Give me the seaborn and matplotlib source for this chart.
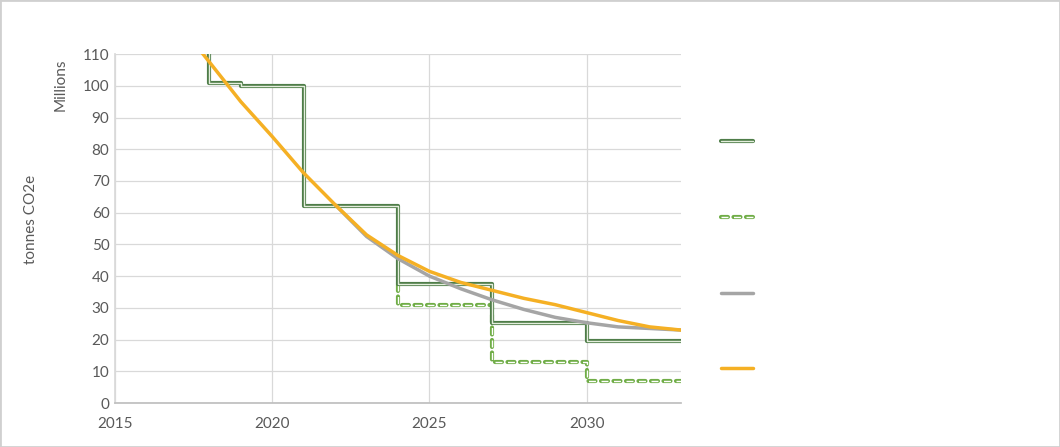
import matplotlib
matplotlib.use('Agg')
import matplotlib.pyplot as plt
import seaborn as sns
import pandas as pd
from matplotlib.patches import Rectangle

# step series (cap) and its dashed variant
cap_years = [2018, 2018, 2019, 2021, 2024, 2027, 2030, 2033]
cap_values = [120, 101, 100, 62, 37.5, 25.3, 19.7, 19.7]
alt_years = [2024, 2024, 2027, 2030, 2033]
alt_values = [37.5, 31, 13, 7, 7]

# smooth series
gray_years = [2022, 2023, 2024, 2025, 2026, 2027, 2028, 2029, 2030, 2031, 2032, 2033]
gray_values = [62.5, 52.5, 45.5, 40, 36, 32.5, 29.5, 27, 25.3, 24, 23.5, 23]
orange_years = [2017, 2018, 2019, 2020, 2021, 2022, 2023, 2024, 2025, 2026, 2027, 2028,
                2029, 2030, 2031, 2032, 2033]
orange_values = [120, 107.5, 95, 84, 72.5, 62.5, 53, 46.5, 41.5, 38, 35.5, 33,
                 31, 28.5, 26, 24, 23]

x_ticks = [2015, 2020, 2025, 2030]
y_ticks = list(range(0, 111, 10))

sns.set_theme(style='white')
plt.rcParams['font.family'] = ['Lato', 'DejaVu Sans']
plt.rcParams['lines.scale_dashes'] = False

fig = plt.figure(figsize=(10.6, 4.47), dpi=100)
ax = fig.add_axes([0.1085, 0.0984, 0.534, 0.7806])

dark_green = '#4f7d49'
light_green = '#70ad47'
gray = '#a5a5a5'
orange = '#f5b024'

cap_df = pd.DataFrame({'year': cap_years, 'value': cap_values})
alt_df = pd.DataFrame({'year': alt_years, 'value': alt_values})

# double line for the cap step
sns.lineplot(data=cap_df, x='year', y='value', ax=ax, estimator=None, sort=False,
             drawstyle='steps-post', color=dark_green, lw=3.0, zorder=3)
sns.lineplot(data=cap_df, x='year', y='value', ax=ax, estimator=None, sort=False,
             drawstyle='steps-post', color='#e4eedd', lw=1.0, zorder=3.1)

# hollow dashed step
sns.lineplot(data=alt_df, x='year', y='value', ax=ax, estimator=None, sort=False,
             drawstyle='steps-post', color=light_green, lw=3.0, zorder=2,
             dashes=False, linestyle=(0, (5, 4)), dash_capstyle='round')
sns.lineplot(data=alt_df, x='year', y='value', ax=ax, estimator=None, sort=False,
             drawstyle='steps-post', color='white', lw=1.0, zorder=2.1,
             dashes=False, linestyle=(0, (5, 4)), dash_capstyle='butt')

sns.lineplot(x=gray_years, y=gray_values, ax=ax, color=gray, lw=2.5, zorder=4)
sns.lineplot(x=orange_years, y=orange_values, ax=ax, color=orange, lw=2.5, zorder=5)

ax.set_xlim(2015, 2033)
ax.set_ylim(0, 110)
ax.set_xticks(x_ticks)
ax.set_yticks(y_ticks)
ax.tick_params(axis='y', colors='#595959', labelsize=11, length=0, pad=4)
ax.tick_params(axis='x', colors='#595959', labelsize=11, length=0, pad=10)
ax.grid(True, color='#d9d9d9', lw=0.9)
for side in ['top', 'right']:
    ax.spines[side].set_visible(False)
ax.spines['left'].set_color('#d9d9d9')
ax.spines['bottom'].set_color('#bfbfbf')
ax.set_xlabel('')
ax.set_ylabel('')

fig.text(0.029, 0.51, 'tonnes CO2e', rotation=90, ha='center', va='center',
         color='#595959', fontsize=11)
fig.text(0.057, 0.81, 'Millions', rotation=90, ha='center', va='center',
         color='#595959', fontsize=11)

# legend with no text
h1 = (plt.Line2D([], [], color=dark_green, lw=3.0),
      plt.Line2D([], [], color='#e4eedd', lw=1.0))
h2 = (plt.Line2D([], [], color=light_green, lw=3.0, linestyle=(0, (5, 4)),
                 dash_capstyle='round'),
      plt.Line2D([], [], color='white', lw=1.0, linestyle=(0, (5, 4))))
h3 = plt.Line2D([], [], color=gray, lw=2.5)
h4 = plt.Line2D([], [], color=orange, lw=2.5)
fig.legend([h1, h2, h3, h4], ['', '', '', ''], loc='center left',
           bbox_to_anchor=(0.668, 0.4284), frameon=False, handlelength=2.3,
           labelspacing=4.6, fontsize=10)

fig.patches.append(Rectangle((0, 0), 1, 1, transform=fig.transFigure, fill=False,
                             edgecolor='#d0d0d0', lw=2))

fig.savefig('out.png', dpi=100)
